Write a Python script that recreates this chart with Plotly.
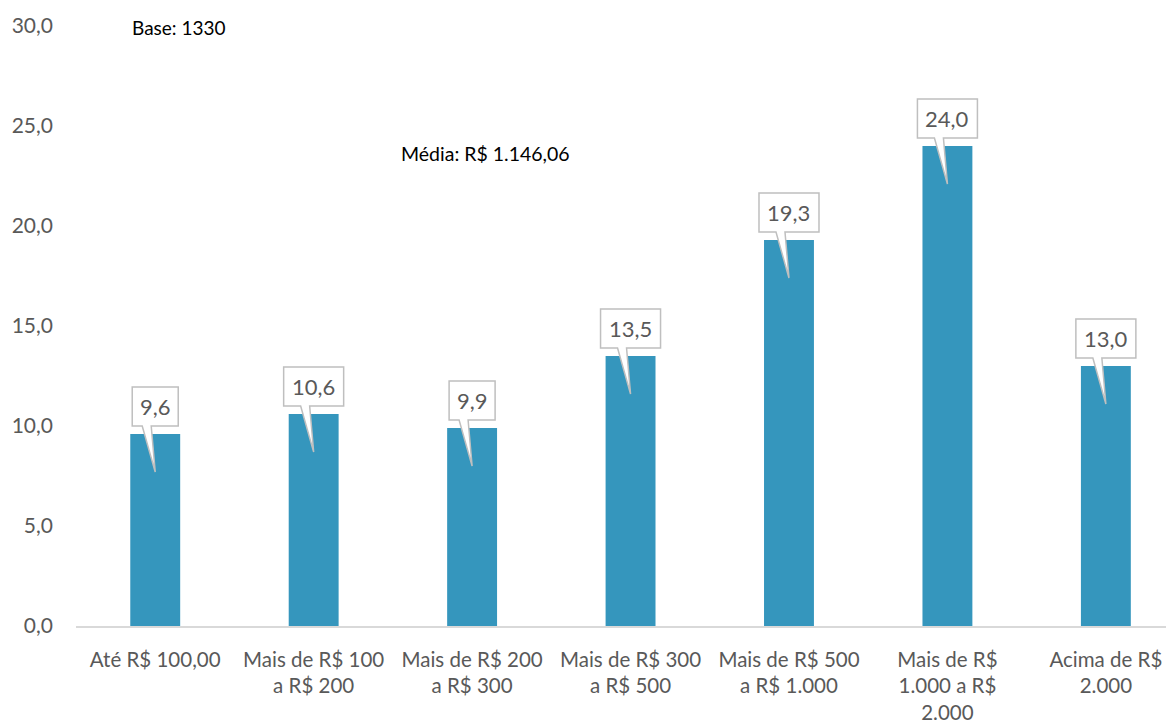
import plotly.graph_objects as go

categories = ["Até R$ 100,00", "Mais de R$ 100<br>a R$ 200", "Mais de R$ 200<br>a R$ 300",
              "Mais de R$ 300<br>a R$ 500", "Mais de R$ 500<br>a R$ 1.000",
              "Mais de R$<br>1.000 a R$<br>2.000", "Acima de R$<br>2.000"]
values = [9.6, 10.6, 9.9, 13.5, 19.3, 24.0, 13.0]
y_ticks = [0, 5, 10, 15, 20, 25, 30]
base_text = "Base: 1330"
mean_text = "Média: R$ 1.146,06"

FONT = "Lato"
GRAY = "#595959"
BAR = "#3596BD"

xs = list(range(len(values)))
fig = go.Figure(go.Bar(x=xs, y=values, marker_color=BAR, marker_line_width=0, width=0.315))

shapes = []
annotations = []
for i, v in enumerate(values):
    label = f"{v:.1f}".replace(".", ",")
    w = 14 * len(label) + 4
    hw = w / 2
    path = (f"M {-hw},8 L -13,8 L 0,-38 L -4,8 L {hw},8 L {hw},47 L {-hw},47 Z")
    shapes.append(dict(type="path", xref="x", yref="y", xsizemode="pixel", ysizemode="pixel",
                       xanchor=i, yanchor=v, path=path, fillcolor="white",
                       line=dict(color="#BFBFBF", width=1.5), layer="above"))
    annotations.append(dict(x=i, y=v, xref="x", yref="y", text=label, showarrow=False,
                            yshift=27.5, yanchor="middle", xanchor="center",
                            font=dict(family=FONT, size=22, color=GRAY)))

annotations.append(dict(xref="paper", yref="paper", x=0.049, y=0.998, text=base_text,
                        showarrow=False, xanchor="left", yanchor="middle",
                        font=dict(family=FONT, size=19, color="black")))
annotations.append(dict(xref="paper", yref="paper", x=0.294, y=0.788, text=mean_text,
                        showarrow=False, xanchor="left", yanchor="middle",
                        font=dict(family=FONT, size=19.5, color="black")))

# page body has an 8px default margin; compensate so the plot lands where the reference has it
fig.update_layout(
    width=1166, height=716,
    margin=dict(l=68, r=0, t=18, b=98, autoexpand=False),
    plot_bgcolor="white", paper_bgcolor="white",
    separators=",.",
    showlegend=False,
    shapes=shapes, annotations=annotations,
    font=dict(family=FONT, size=21, color=GRAY),
)
fig.update_xaxes(range=[-0.5, 6.43], tickvals=xs, ticktext=categories, showgrid=False,
                 showline=True, linecolor="#D9D9D9", linewidth=2, ticks="", zeroline=False,
                 automargin=False,
                 tickfont=dict(family=FONT, size=20.5, color=GRAY), ticklabelstandoff=14)
fig.update_yaxes(range=[0, 30], tickvals=y_ticks, tickformat=".1f", showgrid=False,
                 showline=False, zeroline=False, ticks="", automargin=False,
                 tickfont=dict(family=FONT, size=21, color=GRAY), ticklabelstandoff=22)

fig.write_html("out.html")
